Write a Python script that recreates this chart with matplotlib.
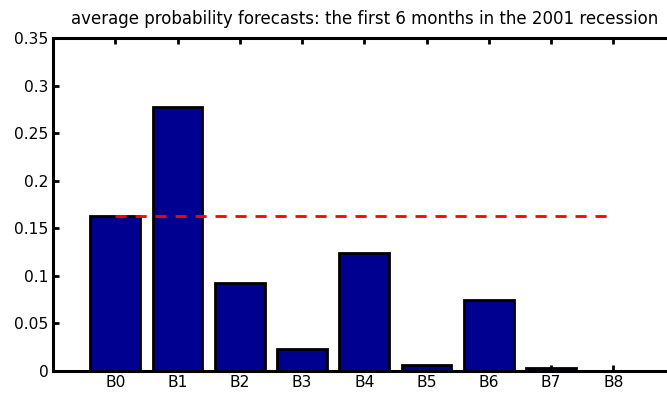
import numpy as np
import matplotlib
matplotlib.use("Agg")
import matplotlib.pyplot as plt

# average probability forecast per bin
labels = ["B0", "B1", "B2", "B3", "B4", "B5", "B6", "B7", "B8"]
probs = [0.163, 0.278, 0.092, 0.0235, 0.1245, 0.0062, 0.0743, 0.0032, 0.0]
ref_level = 0.163          # dashed reference line
yticks = [0, 0.05, 0.1, 0.15, 0.2, 0.25, 0.3, 0.35]
ytick_labels = ["0", "0.05", "0.1", "0.15", "0.2", "0.25", "0.3", "0.35"]

plt.rcParams.update({"font.family": ["DejaVu Sans"]})

W, H = 667, 394
fig = plt.figure(figsize=(W / 100, H / 100), dpi=100)
# axes run a little past the right edge of the canvas
ax = fig.add_axes([53 / W, 23 / H, 622.5 / W, 333 / H])

x = np.arange(1, len(labels) + 1)
ax.bar(x, probs, width=0.8, color="#000090", edgecolor="black", linewidth=2.0, zorder=2)
ax.plot([x[0], x[-1]], [ref_level, ref_level], color="red", ls=(0, (4, 3.2)),
        lw=2.0, zorder=3)

ax.set_xlim(0, 10)
ax.set_ylim(0, 0.35)
ax.set_xticks(x)
ax.set_xticklabels(labels)
ax.set_yticks(yticks)
ax.set_yticklabels(ytick_labels)
ax.tick_params(direction="in", length=4.5, width=2.0, labelsize=11.2, pad=3,
               top=True, right=True)
for s in ax.spines.values():
    s.set_linewidth(2.2)

ax.set_title("average probability forecasts: the first 6 months in the 2001 recession",
             fontsize=12, pad=10)

fig.savefig("out.png", dpi=100, facecolor="white")
